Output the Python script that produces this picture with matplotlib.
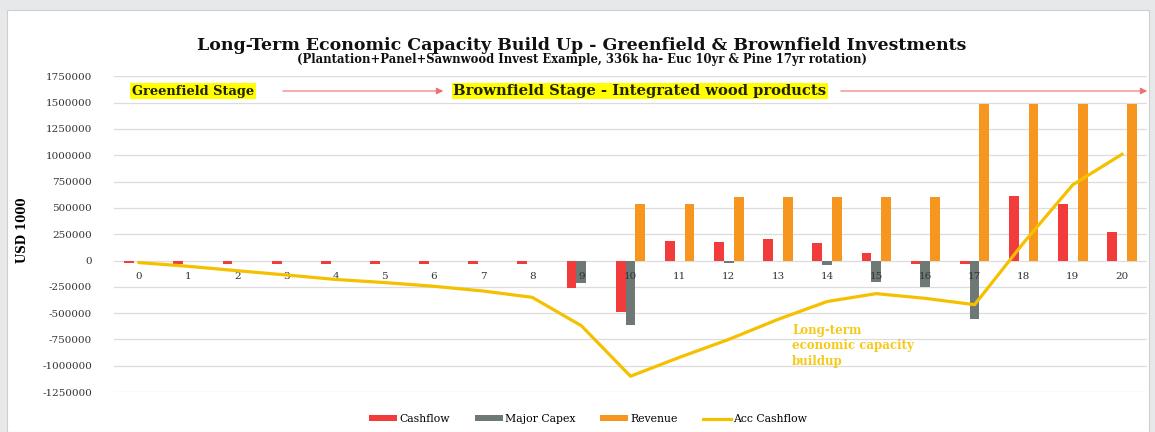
import matplotlib
matplotlib.use("Agg")
import matplotlib.pyplot as plt
import numpy as np
from matplotlib.patches import Rectangle, Patch, FancyArrowPatch
from matplotlib.lines import Line2D

# ---------------- data ----------------
years = [str(i) for i in range(21)]
cashflow = [-25000, -35000, -35000, -35000, -35000, -35000, -35000, -35000, -35000,
            -265000, -490000, 185000, 175000, 205000, 165000, 70000, -35000, -30000,
            615000, 540000, 270000]
major_capex = [0, 0, 0, 0, 0, 0, 0, 0, 0,
               -210000, -610000, -8000, -25000, 0, -45000, -200000, -250000, -560000,
               0, 0, 0]
revenue = [0, 0, 0, 0, 0, 0, 0, 0, 0, 0,
           540000, 540000, 600000, 600000, 600000, 600000, 600000,
           1490000, 1490000, 1490000, 1490000]
acc_cashflow = [-20000, -55000, -97000, -138000, -180000, -210000, -245000, -290000,
                -350000, -620000, -1100000, -920000, -750000, -560000, -390000,
                -315000, -360000, -420000, 170000, 720000, 1010000]
y_ticks = [1750000, 1500000, 1250000, 1000000, 750000, 500000, 250000, 0,
           -250000, -500000, -750000, -1000000, -1250000]

title = "Long-Term Economic Capacity Build Up - Greenfield & Brownfield Investments"
subtitle = "(Plantation+Panel+Sawnwood Invest Example, 336k ha- Euc 10yr & Pine 17yr rotation)"

# ---------------- style ----------------
SERIF = ["DejaVu Serif"]
C_RED = "#f23b3b"
C_GREY = "#6e7874"
C_ORANGE = "#f7961e"
C_GOLD = "#f5c000"
C_GRID = "#dcdcdc"

W, H = 1155, 432
fig = plt.figure(figsize=(W / 100, H / 100), dpi=100)
fig.patch.set_facecolor("#e7e8ea")
# white chart area
bg = Rectangle((7 / W, 0), (1149 - 7) / W, 1 - 10 / H,
               transform=fig.transFigure, facecolor="white",
               edgecolor="#cfcfcf", linewidth=0.8, zorder=-10)
fig.add_artist(bg)

left, right = 114.4 / W, 1146.6 / W
top, bottom = 1 - 76.4 / H, 1 - 392 / H
ax = fig.add_axes([left, bottom, right - left, top - bottom], zorder=1)
ax.set_facecolor("none")

x = np.arange(len(years))
bw = 0.2
ax.bar(x - bw, cashflow, bw, color=C_RED, label="Cashflow", zorder=3)
ax.bar(x, major_capex, bw, color=C_GREY, label="Major Capex", zorder=3)
ax.bar(x + bw, revenue, bw, color=C_ORANGE, label="Revenue", zorder=3)
ax.plot(x, acc_cashflow, color=C_GOLD, lw=2.3, label="Acc Cashflow", zorder=5,
        solid_joinstyle="round")

ax.set_xlim(-0.5, len(years) - 0.5)
ax.set_ylim(-1250000, 1750000)
ax.set_yticks(y_ticks)
ax.set_yticklabels([str(v) for v in y_ticks], family=SERIF, fontsize=7.5, color="#333333")
ax.yaxis.grid(True, color=C_GRID, lw=0.9)
ax.yaxis.set_zorder(0.5)
for s in ["top", "right", "left"]:
    ax.spines[s].set_visible(False)
ax.spines["bottom"].set_position(("data", 0))
ax.spines["bottom"].set_visible(False)
ax.tick_params(axis="y", length=0, pad=16)
ax.tick_params(axis="x", length=0, pad=8)
ax.set_xticks(x)
ax.set_xticklabels(years, family=SERIF, fontsize=7.5, color="#333333")
ax.xaxis.set_zorder(4)

ax.set_ylabel("USD 1000", family=SERIF, fontsize=8.5, fontweight="bold", labelpad=4)
ax.yaxis.set_label_coords((29 - 114.4) / (1146.6 - 114.4), (392 - 230) / (392 - 76.4))

# titles
fig.text(582 / W, 1 - 45 / H, title, family=SERIF, fontsize=12.5, fontweight="bold",
         ha="center", va="center", color="#111111")
fig.text(582 / W, 1 - 60 / H, subtitle, family=SERIF, fontsize=8.4, fontweight="bold",
         ha="center", va="center", color="#111111")

# stage labels with arrows
yy = 1 - 91 / H
fig.text(132 / W, yy, "Greenfield Stage", family=SERIF, fontsize=9.4, fontweight="bold",
         ha="left", va="center", color="#222200",
         bbox=dict(boxstyle="square,pad=0.12", facecolor="#ffff00", edgecolor="none"))
fig.text(453 / W, yy, "Brownfield Stage - Integrated wood products", family=SERIF,
         fontsize=10.6, fontweight="bold", ha="left", va="center", color="#222200",
         bbox=dict(boxstyle="square,pad=0.1", facecolor="#ffff00", edgecolor="none"))
for x0, x1 in [(280, 446), (838, 1150)]:
    fig.add_artist(FancyArrowPatch(
        (x0 / W, yy), (x1 / W, yy), transform=fig.transFigure,
        arrowstyle="-|>,head_length=4,head_width=2", color="#ef6f6f", lw=0.8,
        mutation_scale=1))

# annotation
fig.text(792 / W, 1 - 346 / H, "Long-term\neconomic capacity\nbuildup", family=SERIF,
         fontsize=8.5, fontweight="bold", color="#f3c400", ha="left", va="center",
         linespacing=1.25, alpha=0.9, zorder=7)

# legend
handles = [Patch(facecolor=C_RED), Patch(facecolor=C_GREY), Patch(facecolor=C_ORANGE),
           Line2D([0], [0], color=C_GOLD, lw=2.3)]
labels = ["Cashflow", "Major Capex", "Revenue", "Acc Cashflow"]
leg = fig.legend(handles, labels, loc="center", bbox_to_anchor=(588 / W, 1 - 419 / H),
                 ncol=4, frameon=False, prop={"family": SERIF, "size": 7.8},
                 handlelength=2.6, handleheight=0.5, handletextpad=0.2,
                 columnspacing=2.3)

fig.savefig("out.png", dpi=100, facecolor=fig.get_facecolor())
